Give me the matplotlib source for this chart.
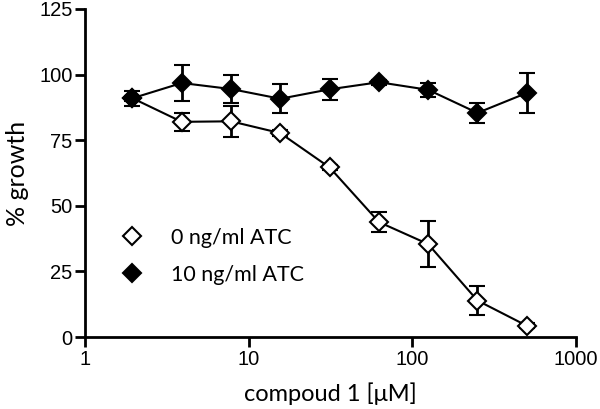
import matplotlib.pyplot as plt
from matplotlib.lines import Line2D

# compound 1 concentration (uM), 2-fold dilutions
conc = [1.95, 3.9, 7.8, 15.6, 31.25, 62.5, 125, 250, 500]

# 0 ng/ml ATC (open diamonds)
growth_0 = [91.0, 82.0, 82.2, 77.7, 64.6, 43.8, 35.4, 13.9, 4.3]
err_0 = [1.0, 3.4, 6.0, 1.0, 1.0, 3.7, 8.7, 5.7, 1.0]

# 10 ng/ml ATC (filled diamonds)
growth_10 = [91.0, 96.8, 94.5, 90.8, 94.4, 97.1, 94.2, 85.4, 93.0]
err_10 = [2.9, 7.0, 5.2, 5.5, 3.9, 1.0, 2.6, 3.8, 7.5]

yticks = [0, 25, 50, 75, 100, 125]
xticks = [1, 10, 100, 1000]

label_font = "Lato"
tick_font = "Liberation Sans"

fig = plt.figure(figsize=(6, 4.09), dpi=100)
ax = fig.add_axes([0.1417, 0.176, 0.8183, 0.802])

ax.errorbar(conc, growth_0, yerr=err_0, color="black", lw=1.5,
            marker="D", ms=9.5, mfc="white", mec="black", mew=1.5,
            capsize=5.5, capthick=2, elinewidth=2, zorder=2)
ax.errorbar(conc, growth_10, yerr=err_10, color="black", lw=1.5,
            marker="D", ms=9.5, mfc="black", mec="black", mew=1.5,
            capsize=5.5, capthick=2, elinewidth=2, zorder=3)

ax.set_xscale("log")
ax.set_xlim(1, 1000)
ax.set_ylim(0, 125)
ax.set_xticks(xticks)
ax.set_xticklabels([str(t) for t in xticks])
ax.xaxis.set_minor_locator(plt.NullLocator())
ax.set_yticks(yticks)

for s in ["top", "right"]:
    ax.spines[s].set_visible(False)
for s in ["left", "bottom"]:
    ax.spines[s].set_linewidth(2)
ax.tick_params(direction="out", length=7, width=2, pad=2,
               labelsize=14.5, labelfontfamily=tick_font)

ax.set_xlabel("compoud 1 [\u03bcM]", fontfamily=label_font, fontsize=17, labelpad=10)
ax.set_ylabel("% growth", fontfamily=label_font, fontsize=18, labelpad=7)

handles = [
    Line2D([], [], ls="none", marker="D", ms=9.5, mfc="white", mec="black", mew=1.5),
    Line2D([], [], ls="none", marker="D", ms=9.5, mfc="black", mec="black", mew=1.5),
]
ax.legend(handles, ["0 ng/ml ATC", "10 ng/ml ATC"], loc="lower left",
          bbox_to_anchor=(0.03, 0.1), frameon=False, handlelength=1.2,
          handletextpad=1.2, labelspacing=0.8,
          prop={"family": label_font, "size": 15.5})

fig.savefig("out.png", dpi=100)
